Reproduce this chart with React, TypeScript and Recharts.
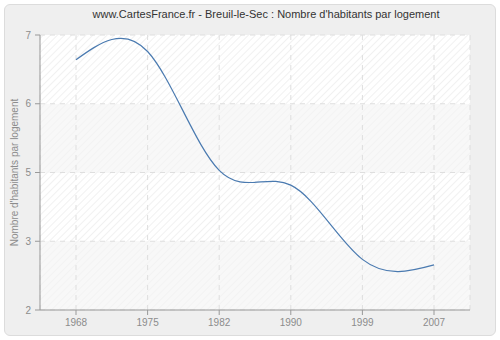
import React from 'react';
import { LineChart, Line, XAxis, YAxis, CartesianGrid } from 'recharts';

// values
const years = ['1968', '1975', '1982', '1990', '1999', '2007'];
const habitantsParLogement = [6.55, 6.7, 4.54, 4.27, 2.92, 2.82];
const yTicks = [2, 3.25, 4.5, 5.75, 7];
const yTickLabels = ['2', '3', '5', '6', '7'];

const data = years.map((year, i) => ({ year, value: habitantsParLogement[i] }));

const FONT = '"Liberation Sans", Arial, sans-serif';
const TICK = { fill: '#8c8c8c', fontSize: 10, fontFamily: FONT };

const App: React.FC = () => {
  return (
    <div style={{ position: 'absolute', left: 0, top: 0, width: 500, height: 340, background: '#fff' }}>
      {/* grey rounded frame behind the chart */}
      <div
        style={{
          position: 'absolute', left: 4, top: 4, width: 490, height: 330,
          background: '#efefef', border: '1px solid #dcdcdc', borderRadius: 6,
        }}
      />
      <div
        style={{
          position: 'absolute', left: 0, top: 8, width: 532, textAlign: 'center',
          fontFamily: FONT, fontSize: 11, color: '#333',
        }}
      >
        www.CartesFrance.fr - Breuil-le-Sec : Nombre d'habitants par logement
      </div>
      <div style={{ position: 'absolute', left: 0, top: 0 }}>
        <LineChart width={500} height={340} data={data} margin={{ top: 35, right: 30, bottom: 10, left: 10 }}>
          <defs>
            <pattern id="hatch" width="5" height="5" patternUnits="userSpaceOnUse" patternTransform="rotate(45)">
              <rect width="5" height="5" fill="#ffffff" />
              <line x1="0" y1="0" x2="0" y2="5" stroke="#ebebeb" strokeWidth="1.4" />
            </pattern>
            <pattern id="hatchLight" width="5" height="5" patternUnits="userSpaceOnUse" patternTransform="rotate(45)">
              <rect width="5" height="5" fill="#f8f8f8" />
              <line x1="0" y1="0" x2="0" y2="5" stroke="#f2f2f2" strokeWidth="1.4" />
            </pattern>
          </defs>
          <CartesianGrid
            stroke="#dedede"
            strokeDasharray="5 5"
            horizontalFill={['url(#hatch)', 'url(#hatchLight)', 'url(#hatch)', 'url(#hatchLight)']}
            fillOpacity={1}
          />
          <XAxis
            dataKey="year"
            padding={{ left: 36, right: 36 }}
            height={20}
            tick={TICK}
            tickSize={5}
            stroke="#999"
            tickMargin={4}
          />
          <YAxis
            domain={[2, 7]}
            ticks={yTicks}
            width={30}
            tick={TICK}
            tickSize={5}
            stroke="#999"
            tickMargin={4}
            tickFormatter={(v: number) => yTickLabels[yTicks.indexOf(v)]}
            label={(props: any) => {
              const vb = props.viewBox;
              const x = vb.x + 4;
              const y = vb.y + vb.height / 2;
              return (
                <text
                  x={x}
                  y={y}
                  transform={`rotate(-90 ${x} ${y})`}
                  textAnchor="middle"
                  dominantBaseline="central"
                  fill="#8c8c8c"
                  fontSize={10}
                  fontFamily={FONT}
                >
                  Nombre d'habitants par logement
                </text>
              );
            }}
          />
          <Line
            type="natural"
            dataKey="value"
            stroke="#4a7ab0"
            strokeWidth={1.2}
            dot={false}
            activeDot={false}
            isAnimationActive={false}
          />
        </LineChart>
      </div>
    </div>
  );
};

export default App;
